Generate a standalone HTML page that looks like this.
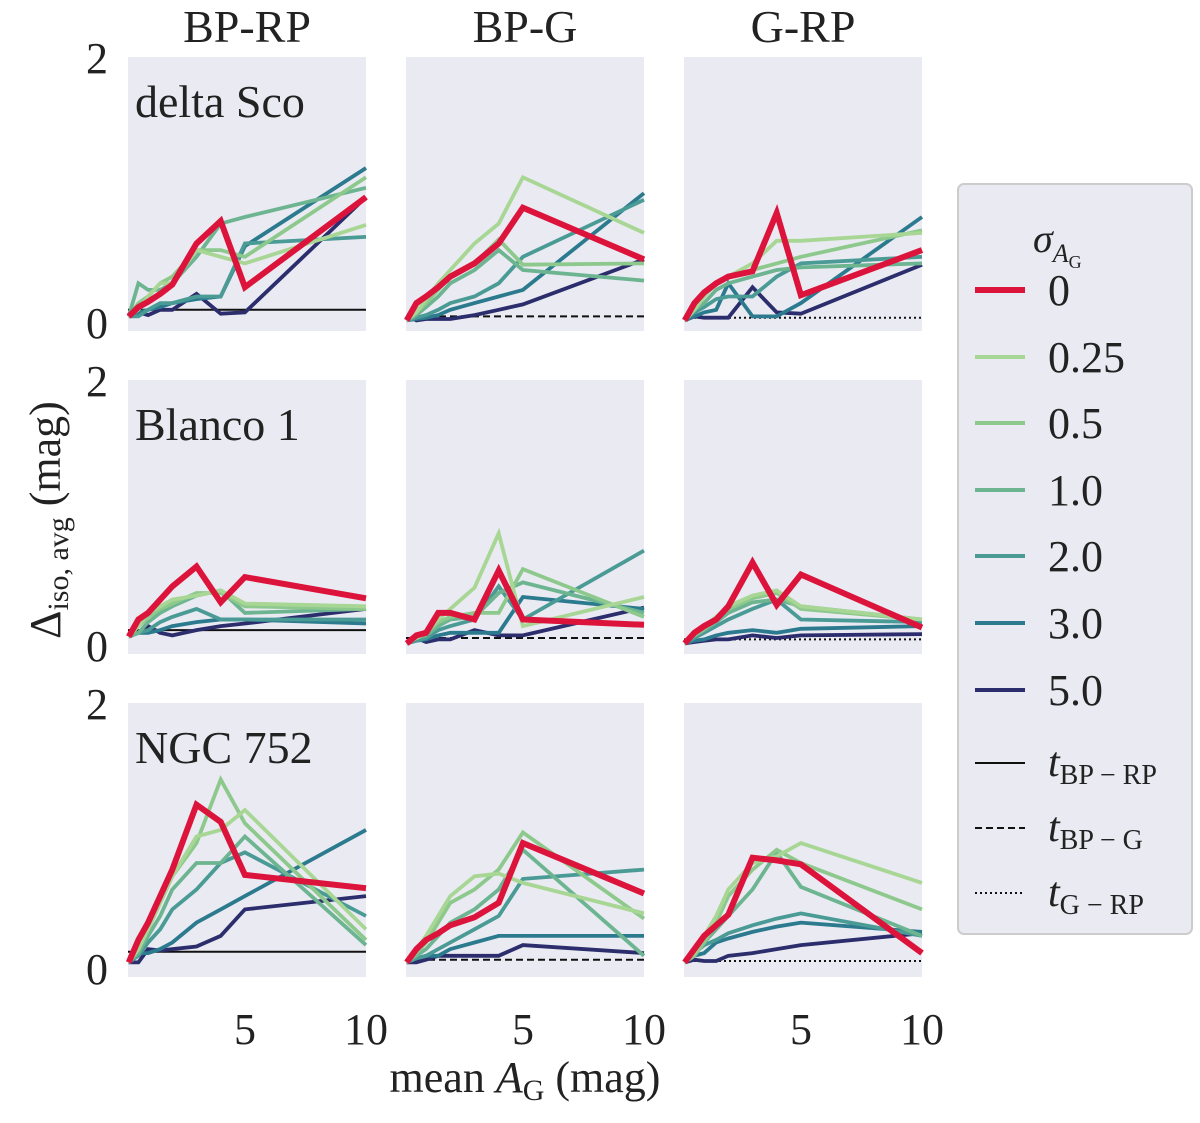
<!DOCTYPE html>
<html><head><meta charset="utf-8"><style>
body{margin:0;background:#fff;}
svg text{font-family:"Liberation Serif",serif;fill:#222;}
</style></head><body>
<svg id="chart" width="1200" height="1118" viewBox="0 0 1200 1118" xmlns="http://www.w3.org/2000/svg"></svg>
<script>
const xs = [0.2, 0.6, 1, 1.5, 2, 3, 4, 5, 10];
const sigmas = ["0", "0.25", "0.5", "1.0", "2.0", "3.0", "5.0"];
const colors = ["#dc143c", "#a8d694", "#8dc98c", "#6db591", "#4a9b95", "#2b7a8e", "#2b2d6c"];
const colTitles = ["BP-RP", "BP-G", "G-RP"];
const rowNames = ["delta Sco", "Blanco 1", "NGC 752"];
const xTicks = [5, 10];
const yTicks = [0, 2];
const thresholds = [[0.1, 0.05, 0.04], [0.12, 0.06, 0.05], [0.13, 0.07, 0.06]];
// delta Sco
const r0c0 = [[0.05,0.12,0.16,0.22,0.29,0.6,0.77,0.27,0.95],[0.05,0.1,0.2,0.3,0.3,0.55,0.5,0.45,0.74],[0.05,0.15,0.2,0.3,0.35,0.55,0.55,0.5,1.1],[0.05,0.3,0.25,0.25,0.3,0.5,0.75,0.8,1.02],[0.05,0.05,0.1,0.15,0.15,0.2,0.2,0.6,0.65],[0.05,0.08,0.1,0.12,0.15,0.18,0.2,0.58,1.17],[0.05,0.08,0.06,0.1,0.1,0.22,0.07,0.08,0.95]];
const r0c1 = [[0.02,0.15,0.2,0.27,0.35,0.45,0.6,0.87,0.48],[0.02,0.08,0.18,0.3,0.4,0.6,0.75,1.1,0.68],[0.02,0.08,0.15,0.25,0.35,0.45,0.63,0.44,0.45],[0.02,0.06,0.12,0.2,0.3,0.4,0.55,0.4,0.32],[0.02,0.04,0.06,0.1,0.15,0.2,0.3,0.5,0.93],[0.02,0.03,0.04,0.06,0.1,0.15,0.2,0.25,0.98],[0.06,0.02,0.03,0.03,0.03,0.06,0.1,0.14,0.48]];
const r0c2 = [[0.02,0.15,0.23,0.3,0.35,0.39,0.83,0.21,0.55],[0.02,0.1,0.2,0.3,0.35,0.45,0.62,0.62,0.68],[0.02,0.1,0.2,0.3,0.35,0.4,0.45,0.5,0.7],[0.02,0.1,0.15,0.25,0.3,0.35,0.4,0.42,0.45],[0.02,0.08,0.12,0.18,0.2,0.2,0.35,0.45,0.5],[0.02,0.05,0.08,0.1,0.3,0.05,0.05,0.15,0.8],[0.02,0.05,0.04,0.04,0.04,0.27,0.08,0.07,0.44]];
// Blanco 1
const r1c0 = [[0.07,0.2,0.25,0.35,0.45,0.6,0.33,0.52,0.36],[0.07,0.15,0.25,0.3,0.35,0.38,0.42,0.32,0.3],[0.07,0.15,0.22,0.28,0.32,0.4,0.4,0.3,0.28],[0.07,0.1,0.18,0.25,0.3,0.38,0.42,0.25,0.28],[0.07,0.1,0.12,0.18,0.22,0.28,0.2,0.2,0.2],[0.07,0.1,0.1,0.12,0.15,0.18,0.2,0.2,0.17],[0.1,0.1,0.15,0.1,0.08,0.12,0.15,0.17,0.28]];
const r1c1 = [[0.02,0.08,0.1,0.25,0.25,0.2,0.57,0.2,0.16],[0.02,0.06,0.1,0.2,0.28,0.44,0.85,0.15,0.37],[0.02,0.06,0.1,0.18,0.22,0.25,0.25,0.58,0.22],[0.02,0.06,0.08,0.15,0.2,0.22,0.4,0.48,0.25],[0.02,0.04,0.06,0.12,0.15,0.2,0.45,0.2,0.72],[0.02,0.04,0.05,0.08,0.1,0.1,0.1,0.37,0.28],[0.02,0.06,0.03,0.05,0.05,0.12,0.08,0.08,0.29]];
const r1c2 = [[0.02,0.1,0.15,0.2,0.3,0.63,0.31,0.54,0.14],[0.02,0.1,0.15,0.22,0.3,0.38,0.42,0.3,0.2],[0.02,0.08,0.13,0.2,0.28,0.36,0.4,0.28,0.2],[0.02,0.08,0.12,0.18,0.25,0.33,0.35,0.3,0.2],[0.02,0.06,0.1,0.15,0.2,0.28,0.35,0.2,0.18],[0.02,0.04,0.05,0.08,0.1,0.12,0.1,0.13,0.15],[0.02,0.03,0.04,0.05,0.05,0.08,0.06,0.08,0.09]];
// NGC 752
const r2c0 = [[0.05,0.22,0.35,0.55,0.75,1.24,1.11,0.71,0.61],[0.05,0.15,0.3,0.5,0.7,1.0,1.05,1.2,0.3],[0.05,0.15,0.3,0.5,0.7,0.95,1.43,1.1,0.22],[0.05,0.12,0.25,0.4,0.6,0.8,0.8,1.0,0.18],[0.05,0.1,0.2,0.3,0.45,0.6,0.8,0.88,0.4],[0.05,0.12,0.12,0.15,0.2,0.35,0.45,0.55,1.05],[0.05,0.05,0.15,0.14,0.15,0.17,0.25,0.45,0.55]];
const r2c1 = [[0.05,0.15,0.22,0.27,0.33,0.39,0.5,0.95,0.57],[0.05,0.15,0.25,0.4,0.55,0.7,0.72,0.65,0.42],[0.05,0.12,0.2,0.35,0.5,0.6,0.75,1.03,0.38],[0.05,0.1,0.15,0.25,0.35,0.45,0.6,0.9,0.1],[0.05,0.08,0.1,0.15,0.2,0.3,0.4,0.68,0.75],[0.05,0.08,0.1,0.1,0.15,0.2,0.25,0.25,0.25],[0.05,0.05,0.07,0.1,0.1,0.1,0.1,0.18,0.12]];
const r2c2 = [[0.05,0.15,0.25,0.33,0.41,0.84,0.82,0.79,0.12],[0.05,0.12,0.25,0.4,0.6,0.8,0.85,0.95,0.65],[0.05,0.1,0.2,0.35,0.55,0.75,0.9,0.8,0.45],[0.05,0.1,0.2,0.3,0.4,0.6,0.88,0.62,0.25],[0.05,0.12,0.18,0.22,0.27,0.33,0.38,0.42,0.25],[0.05,0.1,0.12,0.2,0.23,0.28,0.32,0.35,0.28],[0.05,0.07,0.06,0.06,0.1,0.12,0.15,0.18,0.27]];
const grid = [[r0c0, r0c1, r0c2], [r1c0, r1c1, r1c2], [r2c0, r2c1, r2c2]];

const NS = "http://www.w3.org/2000/svg";
const svg = document.getElementById("chart");
function mk(tag, attrs, parent) {
  const e = document.createElementNS(NS, tag);
  for (const k in attrs) e.setAttribute(k, attrs[k]);
  (parent || svg).appendChild(e);
  return e;
}
const colX = [128, 406, 684], rowY = [57, 380, 703];
const PW = 238, PH = 274;
const dashes = ["", "7,4", "2,3"];
function xScale(c, v) { return colX[c] + (v - 0.17) / (10 - 0.17) * PW; }
function yScale(r, v) { return rowY[r] + 266 - v * 132.5; }

for (let r = 0; r < 3; r++) {
  for (let c = 0; c < 3; c++) {
    const g = mk("g", {});
    
    
    const bg = mk("rect", {x: colX[c], y: rowY[r], width: PW, height: PH, fill: "#eaeaf2"}, g);
    
    
    const ty = yScale(r, thresholds[r][c]);
    const tl = mk("line", {x1: colX[c], x2: colX[c] + PW, y1: ty, y2: ty, stroke: "#111", "stroke-width": 2, "stroke-dasharray": dashes[c]}, g);
    
    
    const series = grid[r][c];
    for (let s = series.length - 1; s >= 0; s--) {
      const pts = series[s].map((v, i) => xScale(c, xs[i]).toFixed(1) + "," + yScale(r, v).toFixed(1)).join(" ");
      const pl = mk("polyline", {points: pts, fill: "none", stroke: colors[s], "stroke-width": s === 0 ? 6 : 3.8, "stroke-linejoin": "miter"}, g);
      
      
    }
    if (r === 0) {
      const t = mk("text", {x: colX[c] + PW / 2, y: 42, "font-size": 46, "text-anchor": "middle"}, svg);
      t.textContent = colTitles[c];
      
      
    }
    if (c === 0) {
      const t = mk("text", {x: 135, y: rowY[r] + 60, "font-size": 46}, svg);
      t.textContent = rowNames[r];
      
      
      yTicks.forEach(v => {
        const yt = mk("text", {x: 97, y: yScale(r, v) + 15, "font-size": 44, "text-anchor": "middle"}, svg);
        yt.textContent = v;
        
        
      });
    }
    if (r === 2) {
      xTicks.forEach(v => {
        const xt = mk("text", {x: xScale(c, v), y: 1044, "font-size": 44, "text-anchor": "middle"}, svg);
        xt.textContent = v;
        
        
      });
    }
  }
}
</script>
<svg style="position:absolute;left:0;top:0" width="1200" height="1118" xmlns="http://www.w3.org/2000/svg">
  <text x="525" y="1092" font-size="44" text-anchor="middle" font-family="Liberation Serif, serif" fill="#222">mean <tspan font-style="italic">A</tspan><tspan font-size="30" dy="8">G</tspan><tspan dy="-8"> (mag)</tspan></text>
  <text transform="translate(60,520) rotate(-90)" font-size="44" text-anchor="middle" font-family="Liberation Serif, serif" fill="#222">Δ<tspan font-size="30" dy="8">iso, avg</tspan><tspan dy="-8"> (mag)</tspan></text>
  <g font-family="Liberation Serif, serif" fill="#222">
    <rect x="958" y="184" width="234" height="750" rx="6" fill="#eaeaf2" stroke="#ccc" stroke-width="2"/>
    <text x="1033" y="252" font-size="40" font-style="italic">σ<tspan font-size="26" dy="10">A</tspan><tspan font-size="18" dy="6" font-style="normal">G</tspan></text>
    <g><line x1="975" x2="1025" y1="290" y2="290" stroke="#dc143c" stroke-width="6"/><text x="1048" y="305" font-size="44">0</text></g>
    <g><line x1="975" x2="1025" y1="357" y2="357" stroke="#a8d694" stroke-width="4"/><text x="1048" y="372" font-size="44">0.25</text></g>
    <g><line x1="975" x2="1025" y1="423" y2="423" stroke="#8dc98c" stroke-width="4"/><text x="1048" y="438" font-size="44">0.5</text></g>
    <g><line x1="975" x2="1025" y1="490" y2="490" stroke="#6db591" stroke-width="4"/><text x="1048" y="505" font-size="44">1.0</text></g>
    <g><line x1="975" x2="1025" y1="556" y2="556" stroke="#4a9b95" stroke-width="4"/><text x="1048" y="571" font-size="44">2.0</text></g>
    <g><line x1="975" x2="1025" y1="623" y2="623" stroke="#2b7a8e" stroke-width="4"/><text x="1048" y="638" font-size="44">3.0</text></g>
    <g><line x1="975" x2="1025" y1="690" y2="690" stroke="#2b2d6c" stroke-width="4"/><text x="1048" y="705" font-size="44">5.0</text></g>
    <g><line x1="975" x2="1025" y1="763" y2="763" stroke="#111" stroke-width="2"/><text x="1048" y="776" font-size="42" font-style="italic">t<tspan font-size="28" dy="8" font-style="normal">BP − RP</tspan></text></g>
    <g><line x1="975" x2="1025" y1="828" y2="828" stroke="#111" stroke-width="2" stroke-dasharray="7,4"/><text x="1048" y="841" font-size="42" font-style="italic">t<tspan font-size="28" dy="8" font-style="normal">BP − G</tspan></text></g>
    <g><line x1="975" x2="1025" y1="893" y2="893" stroke="#111" stroke-width="2" stroke-dasharray="2,3"/><text x="1048" y="906" font-size="42" font-style="italic">t<tspan font-size="28" dy="8" font-style="normal">G − RP</tspan></text></g>
  </g>
</svg>
</body></html>
